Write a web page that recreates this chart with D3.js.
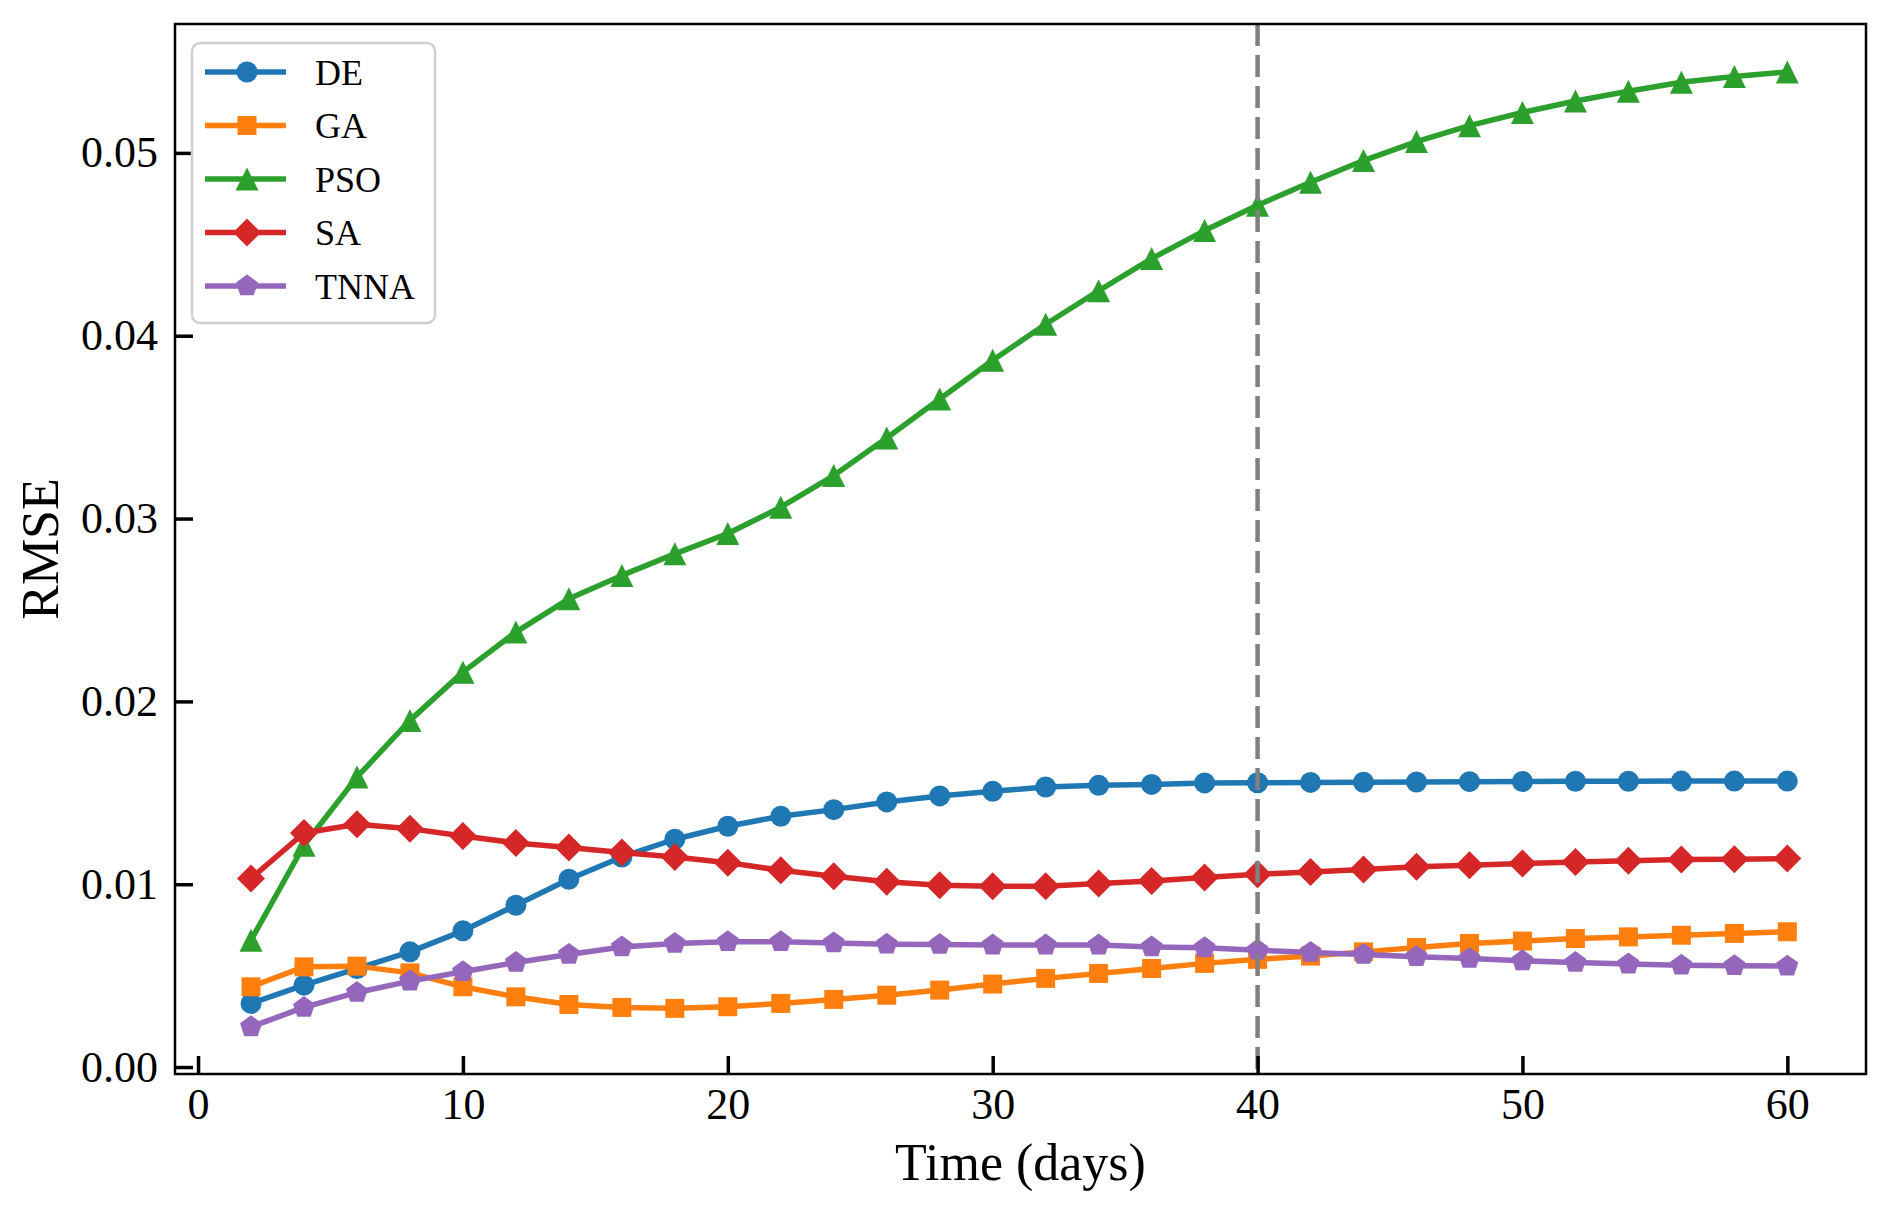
<!DOCTYPE html>
<html>
<head>
<meta charset="utf-8">
<script src="https://cdn.jsdelivr.net/npm/d3@7"></script>
<style>
  body { margin: 0; background: #fff; }
  text { font-family: "Liberation Serif", "Times New Roman", serif; fill: #000; }
</style>
</head>
<body>
<svg class="chart"></svg>
<script>
var days = [2, 4, 6, 8, 10, 12, 14, 16, 18, 20, 22, 24, 26, 28, 30,
            32, 34, 36, 38, 40, 42, 44, 46, 48, 50, 52, 54, 56, 58, 60];

var de = [0.00348, 0.00448, 0.00539, 0.00630, 0.00745, 0.00885, 0.01027, 0.01149, 0.01246, 0.01317,
          0.01372, 0.01408, 0.01450, 0.01483, 0.01508, 0.01532, 0.01541, 0.01546, 0.01554, 0.01555,
          0.01557, 0.01558, 0.01559, 0.01561, 0.01562, 0.01563, 0.01563, 0.01564, 0.01564, 0.01564];

var ga = [0.00439, 0.00548, 0.00552, 0.00515, 0.00439, 0.00384, 0.00342, 0.00326, 0.00321, 0.00330,
          0.00348, 0.00370, 0.00393, 0.00421, 0.00454, 0.00485, 0.00512, 0.00539, 0.00567, 0.00589,
          0.00607, 0.00630, 0.00654, 0.00676, 0.00689, 0.00703, 0.00712, 0.00721, 0.00731, 0.00740];

var pso = [0.00694, 0.01213, 0.01586, 0.01896, 0.02160, 0.02379, 0.02561, 0.02689, 0.02807, 0.02918,
           0.03062, 0.03235, 0.03441, 0.03654, 0.03866, 0.04063, 0.04246, 0.04422, 0.04575, 0.04714,
           0.04839, 0.04958, 0.05062, 0.05149, 0.05221, 0.05284, 0.05337, 0.05386, 0.05418, 0.05443];

var sa = [0.01031, 0.01280, 0.01328, 0.01304, 0.01264, 0.01226, 0.01201, 0.01173, 0.01149, 0.01118,
          0.01076, 0.01044, 0.01013, 0.00995, 0.00989, 0.00989, 0.01004, 0.01018, 0.01037, 0.01055,
          0.01067, 0.01080, 0.01095, 0.01104, 0.01113, 0.01122, 0.01128, 0.01135, 0.01137, 0.01140];

var tnna = [0.00220, 0.00326, 0.00408, 0.00470, 0.00521, 0.00572, 0.00616, 0.00657, 0.00676, 0.00685,
            0.00685, 0.00679, 0.00672, 0.00670, 0.00667, 0.00667, 0.00667, 0.00657, 0.00652, 0.00639,
            0.00627, 0.00616, 0.00603, 0.00594, 0.00581, 0.00572, 0.00563, 0.00557, 0.00554, 0.00552];

var seriesNames = ["DE", "GA", "PSO", "SA", "TNNA"];
var xTicks = [0, 10, 20, 30, 40, 50, 60];
var yTicks = [0.00, 0.01, 0.02, 0.03, 0.04, 0.05];
var cutoffDay = 40;

var width = 1892,
    height = 1216,
    box = {left: 175, right: 1866, top: 24, bottom: 1074};

var colors = ["#1f77b4", "#ff7f0e", "#2ca02c", "#d62728", "#9467bd"];

// matplotlib-like marker shapes
var mkCircle = { draw: function(ctx, s) { var r = Math.sqrt(s) / 2; ctx.moveTo(r, 0); ctx.arc(0, 0, r, 0, 2 * Math.PI); } };
var mkSquare = { draw: function(ctx, s) { var r = Math.sqrt(s) / 2; ctx.rect(-r, -r, 2 * r, 2 * r); } };
var mkTriangle = { draw: function(ctx, s) {
  var r = Math.sqrt(s) / 2;
  ctx.moveTo(0, -r); ctx.lineTo(r, r); ctx.lineTo(-r, r); ctx.closePath();
} };
var mkDiamond = { draw: function(ctx, s) {
  var r = Math.sqrt(s) / 2;
  ctx.moveTo(0, -r); ctx.lineTo(r, 0); ctx.lineTo(0, r); ctx.lineTo(-r, 0); ctx.closePath();
} };
var mkPentagon = { draw: function(ctx, s) {
  var r = Math.sqrt(s) / 2;
  for (var k = 0; k < 5; k++) {
    var a = -Math.PI / 2 + k * 2 * Math.PI / 5;
    if (k === 0) ctx.moveTo(r * Math.cos(a), r * Math.sin(a));
    else ctx.lineTo(r * Math.cos(a), r * Math.sin(a));
  }
  ctx.closePath();
} };

var markers = [
  {type: mkCircle, d: 21},
  {type: mkSquare, d: 19},
  {type: mkTriangle, d: 23},
  {type: mkDiamond, d: 28},
  {type: mkPentagon, d: 23}
];

var series = [de, ga, pso, sa, tnna].map(function(vals, i) {
  return {
    name: seriesNames[i],
    color: colors[i],
    marker: markers[i],
    points: days.map(function(d, j) { return {day: d, v: vals[j]}; })
  };
});

var x = d3.scaleLinear()
  .domain([-0.87, 62.97])
  .range([box.left, box.right]);

var y = d3.scaleLinear()
  .domain([-0.00038, 0.05705])
  .range([box.bottom, box.top]);

var svg = d3.select(".chart")
  .attr("width", width)
  .attr("height", height);

svg.append("rect")
  .attr("width", width)
  .attr("height", height)
  .attr("fill", "#fff");

var line = d3.line()
  .x(function(d) { return x(d.day); })
  .y(function(d) { return y(d.v); });

var symbol = d3.symbol();

var plot = svg.append("g");

series.forEach(function(s) {
  var g = plot.append("g");

  g.append("path")
    .datum(s.points)
    .attr("fill", "none")
    .attr("stroke", s.color)
    .attr("stroke-width", 5.5)
    .attr("stroke-linejoin", "round")
    .attr("stroke-linecap", "round")
    .attr("d", line);

  g.selectAll("path.mk")
      .data(s.points)
    .enter().append("path")
      .attr("class", "mk")
      .attr("fill", s.color)
      .attr("transform", function(d) { return "translate(" + x(d.day) + "," + y(d.v) + ")"; })
      .attr("d", symbol.type(s.marker.type).size(s.marker.d * s.marker.d)());
});

// vertical dashed line at day 40
plot.append("line")
  .attr("x1", x(cutoffDay))
  .attr("x2", x(cutoffDay))
  .attr("y1", box.top)
  .attr("y2", box.bottom)
  .attr("stroke", "#808080")
  .attr("stroke-width", 4.5)
  .attr("stroke-dasharray", "22,9");

var xAxis = d3.axisBottom(x)
  .tickValues(xTicks)
  .tickFormat(d3.format("d"))
  .tickSize(-18)
  .tickPadding(14);

var yAxis = d3.axisLeft(y)
  .tickValues(yTicks)
  .tickFormat(d3.format(".2f"))
  .tickSize(-18)
  .tickPadding(17);

var gx = svg.append("g")
  .attr("transform", "translate(0," + box.bottom + ")")
  .call(xAxis);

var gy = svg.append("g")
  .attr("transform", "translate(" + box.left + ",0)")
  .call(yAxis);

[gx, gy].forEach(function(g) {
  g.select(".domain").remove();
  g.selectAll(".tick line").attr("stroke", "#000").attr("stroke-width", 3.5);
  g.selectAll(".tick text")
    .attr("fill", "#000")
    .style("font-family", "'Liberation Serif', 'Times New Roman', serif")
    .style("font-size", "44px");
});

svg.append("rect")
  .attr("x", box.left)
  .attr("y", box.top)
  .attr("width", box.right - box.left)
  .attr("height", box.bottom - box.top)
  .attr("fill", "none")
  .attr("stroke", "#000")
  .attr("stroke-width", 2.5);

svg.append("text")
  .attr("x", (box.left + box.right) / 2)
  .attr("y", 1180)
  .attr("text-anchor", "middle")
  .style("font-size", "52px")
  .text("Time (days)");

svg.append("text")
  .attr("transform", "translate(58," + (box.top + box.bottom) / 2 + ") rotate(-90)")
  .attr("text-anchor", "middle")
  .style("font-size", "52px")
  .text("RMSE");

// legend
var legend = svg.append("g");

legend.append("rect")
  .attr("x", 192)
  .attr("y", 43)
  .attr("width", 243)
  .attr("height", 280)
  .attr("rx", 8)
  .attr("fill", "#fff")
  .attr("fill-opacity", 0.85)
  .attr("stroke", "#d0d0d0")
  .attr("stroke-width", 2.5);

var row = legend.selectAll("g.row")
    .data(series)
  .enter().append("g")
    .attr("class", "row")
    .attr("transform", function(d, i) { return "translate(0," + (72 + i * 53.5) + ")"; });

row.append("line")
  .attr("x1", 205)
  .attr("x2", 286)
  .attr("stroke", function(d) { return d.color; })
  .attr("stroke-width", 5.5);

row.append("path")
  .attr("transform", "translate(247,0)")
  .attr("fill", function(d) { return d.color; })
  .attr("d", function(d) { return symbol.type(d.marker.type).size(d.marker.d * d.marker.d)(); });

row.append("text")
  .attr("x", 315)
  .attr("dy", "0.35em")
  .style("font-size", "36px")
  .text(function(d) { return d.name; });
</script>
</body>
</html>
